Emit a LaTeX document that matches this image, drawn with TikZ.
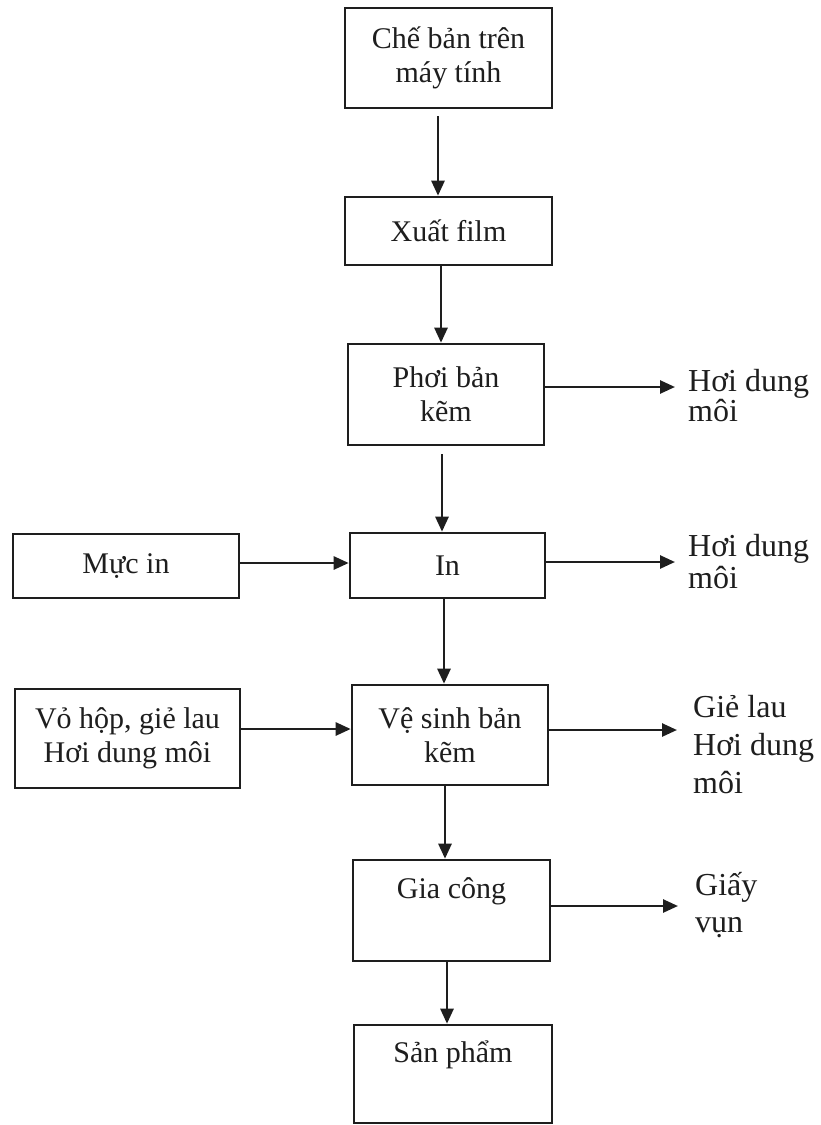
\documentclass[tikz,border=0pt]{standalone}
\usepackage{fontspec}
\setmainfont{Liberation Serif}
\usetikzlibrary{arrows.meta}
\definecolor{ink}{HTML}{1E1E1E}
\tikzset{
  boxbase/.style={draw=ink, line width=2.6pt, inner sep=0pt, text=ink,
    font=\fontsize{30}{34}\selectfont},
  box/.style={boxbase, align=center},
  toptext/.style={boxbase, text height=18pt, text depth=42pt},
  outlabel/.style={anchor=base west, inner sep=0pt, align=left, text=ink},
  flow/.style={draw=ink, line width=2.6pt, -{Triangle[length=15pt,width=13pt]}}
}
\begin{document}
\begin{tikzpicture}[x=1pt,y=-1pt]
\useasboundingbox[fill=white] (0,0) rectangle (820,1125);
% main column
\node[box, minimum width=207pt, minimum height=100pt] (b1) at (448.5,58) {Chế bản trên\\máy tính};
\node[box, minimum width=207pt, minimum height=68pt] (b2) at (448.5,231) {Xuất film};
\node[box, minimum width=196pt, minimum height=101pt] (b3) at (446,394.5) {Phơi bản\\kẽm};
\node[box, minimum width=195pt, minimum height=65pt] (b4) at (447.5,565.5) {In};
\node[box, minimum width=196pt, minimum height=100pt] (b5) at (450,735) {Vệ sinh bản\\kẽm};
\node[toptext, minimum width=197pt, minimum height=101pt] (b6) at (451.5,910.5) {Gia công};
\node[toptext, minimum width=198pt, minimum height=98pt] (b7) at (453,1074) {Sản phẩm};
% inputs
\node[box, minimum width=226pt, minimum height=64pt] (m1) at (126,566) {Mực in};
\node[box, minimum width=225pt, minimum height=99pt] (m2) at (127.5,738.5) {Vỏ hộp, giẻ lau\\Hơi dung môi};
% outputs (anchor at the baseline of the last line)
\node[outlabel, font=\fontsize{32}{30}\selectfont] (l1) at (688,421) {Hơi dung\\môi};
\node[outlabel, font=\fontsize{32}{32}\selectfont] (l2) at (688,588) {Hơi dung\\môi};
\node[outlabel, font=\fontsize{32}{38}\selectfont] (l3) at (693,793) {Giẻ lau\\Hơi dung\\môi};
\node[outlabel, font=\fontsize{32}{37}\selectfont] (l4) at (695,932) {Giấy\\vụn};
% vertical flow
\draw[flow, shorten <=7pt] ([xshift=-10.5pt]b1.south) -- ([xshift=-10.5pt]b1.south |- b2.north);
\draw[flow] ([xshift=-7.5pt]b2.south) -- ([xshift=-7.5pt]b2.south |- b3.north);
\draw[flow, shorten <=8pt] ([xshift=-4pt]b3.south) -- ([xshift=-4pt]b3.south |- b4.north);
\draw[flow] ([xshift=-3.5pt]b4.south) -- ([xshift=-3.5pt]b4.south |- b5.north);
\draw[flow] ([xshift=-5pt]b5.south) -- ([xshift=-5pt]b5.south |- b6.north);
\draw[flow] ([xshift=-4.5pt]b6.south) -- ([xshift=-4.5pt]b6.south |- b7.north);
% inputs
\draw[flow] ([yshift=3pt]m1.east) -- ([yshift=3pt]m1.east -| b4.west);
\draw[flow] ([yshift=9.5pt]m2.east) -- ([yshift=9.5pt]m2.east -| b5.west);
% outputs
\draw[flow, shorten >=13pt] ([yshift=7.5pt]b3.east) -- ([yshift=7.5pt]b3.east -| l1.west);
\draw[flow, shorten >=13pt] ([yshift=3.5pt]b4.east) -- ([yshift=3.5pt]b4.east -| l2.west);
\draw[flow, shorten >=16pt] ([yshift=5pt]b5.east) -- ([yshift=5pt]b5.east -| l3.west);
\draw[flow, shorten >=17pt] ([yshift=4.5pt]b6.east) -- ([yshift=4.5pt]b6.east -| l4.west);
\end{tikzpicture}
\end{document}
